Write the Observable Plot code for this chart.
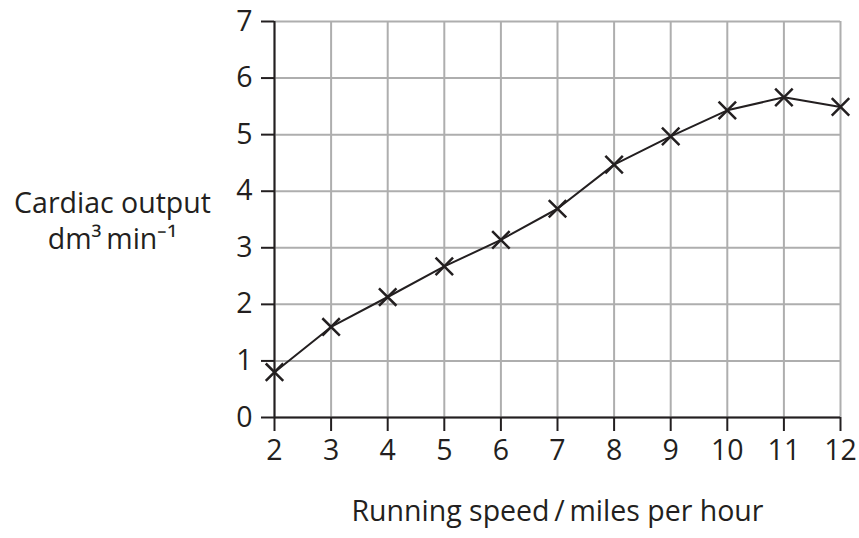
<!DOCTYPE html>
<html>
<head>
<meta charset="utf-8">
<script src="https://cdn.jsdelivr.net/npm/d3@7"></script>
<script src="https://cdn.jsdelivr.net/npm/@observablehq/plot@0.6"></script>
<style>
  html, body { margin: 0; padding: 0; background: #fff; }
  svg { display: block; }
</style>
</head>
<body>
<div id="chart"></div>
<script>
const speeds = [2, 3, 4, 5, 6, 7, 8, 9, 10, 11, 12];
const cardiacOutput = [0.8, 1.6, 2.13, 2.67, 3.14, 3.69, 4.47, 4.97, 5.43, 5.66, 5.49];
const xTicks = [2, 3, 4, 5, 6, 7, 8, 9, 10, 11, 12];
const yTicks = [0, 1, 2, 3, 4, 5, 6, 7];
const xTitle = "Running speed\u2009/\u2009miles per hour";
const yTitle = "Cardiac output\ndm\u00B3\u2009min\u207B\u00B9";

const data = speeds.map((s, i) => ({speed: s, output: cardiacOutput[i]}));
const ink = "#231f20";

const chart = Plot.plot({
  width: 859,
  height: 538,
  marginLeft: 274,
  marginRight: 19,
  marginTop: 21,
  marginBottom: 121,
  style: {fontFamily: "'Open Sans', sans-serif", color: ink, background: "#fff"},
  x: {domain: [2, 12], ticks: xTicks},
  y: {domain: [0, 7], ticks: yTicks},
  marks: [
    Plot.ruleX(xTicks, {stroke: "#aeaeae", strokeWidth: 2}),
    Plot.ruleY(yTicks, {stroke: "#aeaeae", strokeWidth: 2}),
    Plot.ruleX([2], {stroke: ink, strokeWidth: 2}),
    Plot.ruleY([0], {stroke: ink, strokeWidth: 2}),
    Plot.axisX({ticks: xTicks, tickSize: 14, tickPadding: 8, fontSize: 28.5, stroke: ink, strokeWidth: 2, label: null, tickFormat: d => String(d)}),
    Plot.axisY({ticks: yTicks, tickSize: 13, tickPadding: 9, fontSize: 28.5, stroke: ink, strokeWidth: 2, label: null, tickFormat: d => String(d)}),
    Plot.line(data, {x: "speed", y: "output", stroke: ink, strokeWidth: 2}),
    Plot.dot(data, {x: "speed", y: "output", symbol: "times", r: 8, stroke: ink, strokeWidth: 2.5}),
    Plot.text([yTitle], {frameAnchor: "left", dx: -162, text: d => d, fontSize: 28.5, lineHeight: 1.26, fill: ink, textAnchor: "middle"}),
    Plot.text([xTitle], {frameAnchor: "bottom", dy: 103, text: d => d, fontSize: 28.5, fill: ink, textAnchor: "middle"})
  ]
});
document.getElementById("chart").appendChild(chart);
</script>
</body>
</html>
